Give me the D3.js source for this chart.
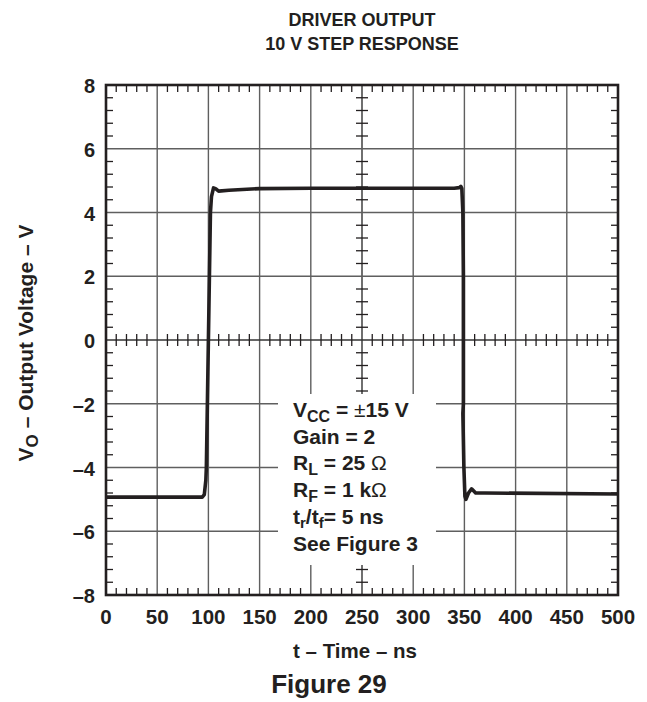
<!DOCTYPE html>
<html>
<head>
<meta charset="utf-8">
<script src="https://cdn.jsdelivr.net/npm/d3@7"></script>
<style>
  body { margin: 0; background: #fff; }
  text { font-family: Arial, "Liberation Sans", Helvetica, sans-serif; font-weight: bold; fill: #231f20; }
</style>
</head>
<body>
<div id="chart"></div>
<script>
// Datos (t en ns, V en voltios)
const tiempo = [0, 94, 96, 97.5, 98, 99.5, 100.5, 101.5, 102, 103, 105, 107, 110, 120, 150, 200, 340, 345, 346.5, 347.5, 348.5, 349, 349, 348.5, 349.5, 350.5, 351.5, 354, 357, 361, 370, 500];
const voltaje = [-4.93, -4.93, -4.85, -4.4, -4, -1, 1, 3, 4, 4.5, 4.77, 4.75, 4.67, 4.7, 4.75, 4.76, 4.76, 4.78, 4.82, 4.75, 4, 2, -2, -2.3, -4, -4.9, -5.0, -4.8, -4.67, -4.8, -4.8, -4.83];

const xTicks = [0, 50, 100, 150, 200, 250, 300, 350, 400, 450, 500];
const yTicks = [8, 6, 4, 2, 0, -2, -4, -6, -8];
const yTickLabels = ["8", "6", "4", "2", "0", "–2", "–4", "–6", "–8"];

const titulo = ["DRIVER OUTPUT", "10 V STEP RESPONSE"];

// Anotaciones: [texto, subíndice, resto]
const anotaciones = [
    ["V", "CC", " = ", "±", "15 V"],
    ["Gain = 2"],
    ["R", "L", " = 25 ", "Ω", ""],
    ["R", "F", " = 1 k", "Ω", ""],
    ["t", "r", "/t", "f", "= 5 ns"],
    ["See Figure 3"]
];

const width = 647, height = 702;
const plot = { left: 106, right: 618, top: 85, bottom: 595 };

const svg = d3.select("#chart").append("svg")
    .attr("width", width)
    .attr("height", height);

const x = d3.scaleLinear().domain([0, 500]).range([plot.left, plot.right]);
const y = d3.scaleLinear().domain([-8, 8]).range([plot.bottom, plot.top]);

// Rejilla principal
const grid = svg.append("g").attr("stroke", "#5f5f5f").attr("stroke-width", 1.4);
xTicks.slice(1, -1).forEach(t => {
    grid.append("line")
        .attr("x1", x(t)).attr("x2", x(t))
        .attr("y1", plot.top).attr("y2", plot.bottom)
        .attr("stroke", t === 250 ? "#333" : null);
});
yTicks.slice(1, -1).forEach(v => {
    grid.append("line")
        .attr("x1", plot.left).attr("x2", plot.right)
        .attr("y1", y(v)).attr("y2", y(v))
        .attr("stroke", v === 0 ? "#333" : null);
});

// Marcas menores
const minor = svg.append("g").attr("stroke", "#231f20").attr("stroke-width", 1.3);
const xMinor = d3.range(0, 501, 10).filter(t => t % 50 !== 0);
const yMinor = d3.range(-80, 81, 4).map(d => d / 10).filter(v => Math.abs(v % 2) > 1e-9);
const tl = 7;
xMinor.forEach(t => {
    minor.append("line").attr("x1", x(t)).attr("x2", x(t)).attr("y1", plot.top).attr("y2", plot.top + tl);
    minor.append("line").attr("x1", x(t)).attr("x2", x(t)).attr("y1", plot.bottom).attr("y2", plot.bottom - tl);
    minor.append("line").attr("x1", x(t)).attr("x2", x(t)).attr("y1", y(0) - 6).attr("y2", y(0) + 6);
});
yMinor.forEach(v => {
    minor.append("line").attr("x1", plot.left).attr("x2", plot.left + tl).attr("y1", y(v)).attr("y2", y(v));
    minor.append("line").attr("x1", plot.right).attr("x2", plot.right - tl).attr("y1", y(v)).attr("y2", y(v));
    minor.append("line").attr("x1", x(250) - 6).attr("x2", x(250) + 6).attr("y1", y(v)).attr("y2", y(v));
});

// Caja blanca de la anotación
svg.append("rect")
    .attr("x", 278).attr("y", 394)
    .attr("width", 158).attr("height", 171)
    .attr("fill", "#fff");

// Curva
const line = d3.line()
    .x((d, i) => x(tiempo[i]))
    .y((d, i) => y(voltaje[i]));

svg.append("path")
    .datum(tiempo)
    .attr("d", line)
    .attr("fill", "none")
    .attr("stroke", "#231f20")
    .attr("stroke-width", 3.6)
    .attr("stroke-linejoin", "round");

// Borde
svg.append("rect")
    .attr("x", plot.left).attr("y", plot.top)
    .attr("width", plot.right - plot.left).attr("height", plot.bottom - plot.top)
    .attr("fill", "none")
    .attr("stroke", "#231f20")
    .attr("stroke-width", 2.6);

// Etiquetas de ejes
svg.append("g").selectAll("text")
    .data(xTicks)
    .enter().append("text")
    .attr("x", d => x(d))
    .attr("y", 624)
    .attr("text-anchor", "middle")
    .style("font-size", "20.5px")
    .text(d => d);

svg.append("g").selectAll("text")
    .data(yTicks)
    .enter().append("text")
    .attr("x", 95)
    .attr("y", d => y(d) + 8)
    .attr("text-anchor", "end")
    .style("font-size", "20px")
    .text((d, i) => yTickLabels[i]);

// Título
svg.append("g").selectAll("text")
    .data(titulo)
    .enter().append("text")
    .attr("x", 362)
    .attr("y", (d, i) => 26 + i * 24)
    .attr("text-anchor", "middle")
    .style("font-size", "18px")
    .text(d => d);

svg.append("text")
    .attr("x", 355).attr("y", 658)
    .attr("text-anchor", "middle")
    .style("font-size", "20.5px")
    .text("t – Time – ns");

svg.append("text")
    .attr("x", 329).attr("y", 693)
    .attr("text-anchor", "middle")
    .style("font-size", "26px")
    .text("Figure 29");

const yLabel = svg.append("text")
    .attr("transform", "translate(33,343) rotate(-90)")
    .attr("text-anchor", "middle")
    .style("font-size", "21px");
yLabel.append("tspan").text("V");
yLabel.append("tspan").attr("dy", 5).style("font-size", "17px").text("O");
yLabel.append("tspan").attr("dy", -5).text(" – Output Voltage – V");

// Texto de condiciones
anotaciones.forEach((a, i) => {
    const t = svg.append("text")
        .attr("x", 293)
        .attr("y", 417 + i * 26.7)
        .style("font-size", "21px");
    if (a.length === 1) { t.text(a[0]); return; }
    if (a[0] === "t") {
        t.append("tspan").text("t");
        t.append("tspan").attr("dy", 4).style("font-size", "15px").text("r");
        t.append("tspan").attr("dy", -4).text("/t");
        t.append("tspan").attr("dy", 4).style("font-size", "15px").text("f");
        t.append("tspan").attr("dy", -4).text(a[4]);
        return;
    }
    t.append("tspan").text(a[0]);
    t.append("tspan").attr("dy", 5).style("font-size", "16px").text(a[1]);
    t.append("tspan").attr("dy", -5).text(a[2]);
    t.append("tspan").style("font-weight", "normal").text(a[3]);
    t.append("tspan").text(a[4]);
});
</script>
</body>
</html>
